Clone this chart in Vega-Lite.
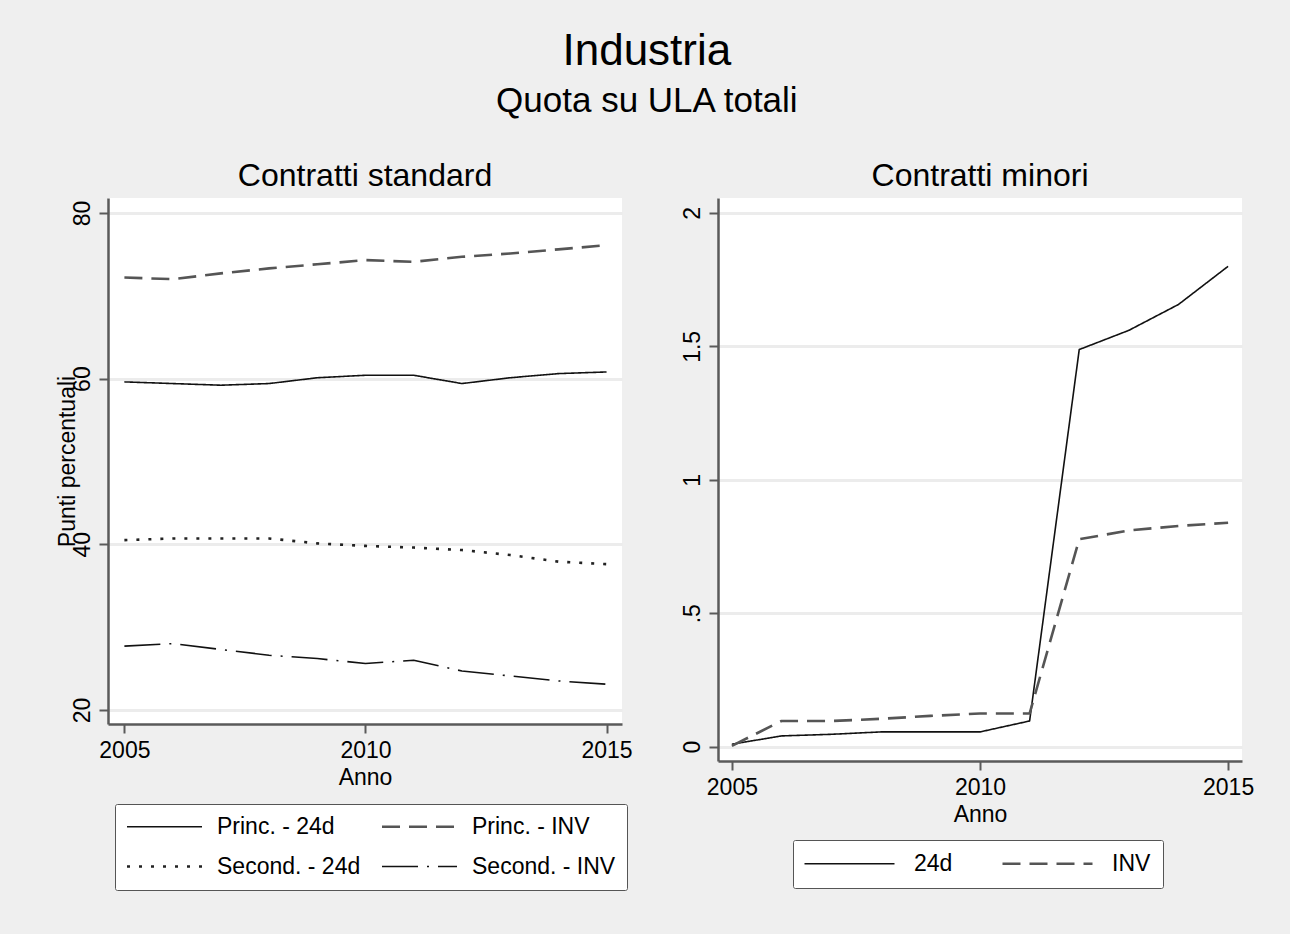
{
  "$schema": "https://vega.github.io/schema/vega-lite/v6.json",
  "background": "#efefef",
  "padding": {"left": 56, "top": 30, "right": 37, "bottom": 47},
  "title": {
    "text": "Industria",
    "subtitle": "Quota su ULA totali",
    "anchor": "middle",
    "dx": -8,
    "font": "Liberation Sans",
    "fontSize": 44,
    "fontWeight": "normal",
    "color": "#000000",
    "subtitleFont": "Liberation Sans",
    "subtitleFontSize": 35,
    "subtitleColor": "#000000",
    "subtitlePadding": 10,
    "offset": 41
  },
  "datasets": {
    "standard": [
      {"anno": 2005, "serie": "Princ. - 24d", "valore": 59.6},
      {"anno": 2006, "serie": "Princ. - 24d", "valore": 59.4},
      {"anno": 2007, "serie": "Princ. - 24d", "valore": 59.2},
      {"anno": 2008, "serie": "Princ. - 24d", "valore": 59.4},
      {"anno": 2009, "serie": "Princ. - 24d", "valore": 60.1},
      {"anno": 2010, "serie": "Princ. - 24d", "valore": 60.4},
      {"anno": 2011, "serie": "Princ. - 24d", "valore": 60.4},
      {"anno": 2012, "serie": "Princ. - 24d", "valore": 59.4},
      {"anno": 2013, "serie": "Princ. - 24d", "valore": 60.1},
      {"anno": 2014, "serie": "Princ. - 24d", "valore": 60.6},
      {"anno": 2015, "serie": "Princ. - 24d", "valore": 60.8},
      {"anno": 2005, "serie": "Princ. - INV", "valore": 72.2},
      {"anno": 2006, "serie": "Princ. - INV", "valore": 72.0},
      {"anno": 2007, "serie": "Princ. - INV", "valore": 72.7},
      {"anno": 2008, "serie": "Princ. - INV", "valore": 73.3},
      {"anno": 2009, "serie": "Princ. - INV", "valore": 73.8},
      {"anno": 2010, "serie": "Princ. - INV", "valore": 74.3},
      {"anno": 2011, "serie": "Princ. - INV", "valore": 74.1},
      {"anno": 2012, "serie": "Princ. - INV", "valore": 74.7},
      {"anno": 2013, "serie": "Princ. - INV", "valore": 75.1},
      {"anno": 2014, "serie": "Princ. - INV", "valore": 75.6},
      {"anno": 2015, "serie": "Princ. - INV", "valore": 76.1},
      {"anno": 2005, "serie": "Second. - 24d", "valore": 40.5},
      {"anno": 2006, "serie": "Second. - 24d", "valore": 40.7},
      {"anno": 2007, "serie": "Second. - 24d", "valore": 40.7},
      {"anno": 2008, "serie": "Second. - 24d", "valore": 40.7},
      {"anno": 2009, "serie": "Second. - 24d", "valore": 40.1},
      {"anno": 2010, "serie": "Second. - 24d", "valore": 39.8},
      {"anno": 2011, "serie": "Second. - 24d", "valore": 39.6},
      {"anno": 2012, "serie": "Second. - 24d", "valore": 39.3},
      {"anno": 2013, "serie": "Second. - 24d", "valore": 38.7},
      {"anno": 2014, "serie": "Second. - 24d", "valore": 37.9},
      {"anno": 2015, "serie": "Second. - 24d", "valore": 37.6},
      {"anno": 2005, "serie": "Second. - INV", "valore": 27.7},
      {"anno": 2006, "serie": "Second. - INV", "valore": 28.0},
      {"anno": 2007, "serie": "Second. - INV", "valore": 27.3},
      {"anno": 2008, "serie": "Second. - INV", "valore": 26.6},
      {"anno": 2009, "serie": "Second. - INV", "valore": 26.2},
      {"anno": 2010, "serie": "Second. - INV", "valore": 25.6},
      {"anno": 2011, "serie": "Second. - INV", "valore": 26.0},
      {"anno": 2012, "serie": "Second. - INV", "valore": 24.7},
      {"anno": 2013, "serie": "Second. - INV", "valore": 24.1},
      {"anno": 2014, "serie": "Second. - INV", "valore": 23.5},
      {"anno": 2015, "serie": "Second. - INV", "valore": 23.1}
    ],
    "minori": [
      {"anno": 2005, "serie": "24d", "valore": 0.009},
      {"anno": 2006, "serie": "24d", "valore": 0.040},
      {"anno": 2007, "serie": "24d", "valore": 0.046},
      {"anno": 2008, "serie": "24d", "valore": 0.055},
      {"anno": 2009, "serie": "24d", "valore": 0.055},
      {"anno": 2010, "serie": "24d", "valore": 0.055},
      {"anno": 2011, "serie": "24d", "valore": 0.096},
      {"anno": 2012, "serie": "24d", "valore": 1.488},
      {"anno": 2013, "serie": "24d", "valore": 1.560},
      {"anno": 2014, "serie": "24d", "valore": 1.657},
      {"anno": 2015, "serie": "24d", "valore": 1.800},
      {"anno": 2005, "serie": "INV", "valore": 0.003},
      {"anno": 2006, "serie": "INV", "valore": 0.096},
      {"anno": 2007, "serie": "INV", "valore": 0.096},
      {"anno": 2008, "serie": "INV", "valore": 0.104},
      {"anno": 2009, "serie": "INV", "valore": 0.115},
      {"anno": 2010, "serie": "INV", "valore": 0.124},
      {"anno": 2011, "serie": "INV", "valore": 0.124},
      {"anno": 2012, "serie": "INV", "valore": 0.777},
      {"anno": 2013, "serie": "INV", "valore": 0.810},
      {"anno": 2014, "serie": "INV", "valore": 0.827},
      {"anno": 2015, "serie": "INV", "valore": 0.839}
    ]
  },
  "bounds": "flush",
  "spacing": 96,
  "hconcat": [
    {
      "title": "Contratti standard",
      "width": 514,
      "height": 526,
      "data": {"name": "standard"},
      "mark": {"type": "line", "strokeCap": "butt", "strokeJoin": "round"},
      "encoding": {
        "x": {
          "field": "anno", "type": "quantitative",
          "scale": {"domain": [2004.66, 2015.32], "nice": false, "zero": false},
          "axis": {"values": [2005, 2010, 2015], "format": "d", "title": "Anno"}
        },
        "y": {
          "field": "valore", "type": "quantitative",
          "scale": {"domain": [18.3, 81.8], "nice": false, "zero": false},
          "axis": {
            "values": [20, 40, 60, 80],
            "title": "Punti percentuali",
            "titleX": -34, "titleY": 263,
            "titleAngle": -90, "titleAlign": "center", "titleBaseline": "alphabetic"
          }
        },
        "color": {
          "field": "serie", "type": "nominal",
          "scale": {
            "domain": ["Princ. - 24d", "Princ. - INV", "Second. - 24d", "Second. - INV"],
            "range": ["#111111", "#555555", "#222222", "#111111"]
          },
          "legend": {
            "title": null, "orient": "none", "legendX": 7, "legendY": 606,
            "columns": 2, "direction": "horizontal",
            "symbolType": "M-5,0H5", "symbolSize": 225, "symbolOffset": 27,
            "labelOffset": 41, "columnPadding": 15, "rowPadding": 16, "padding": 11,
            "strokeColor": "#555555", "fillColor": "#ffffff", "cornerRadius": 2
          }
        },
        "strokeDash": {
          "field": "serie", "type": "nominal",
          "scale": {
            "domain": ["Princ. - 24d", "Princ. - INV", "Second. - 24d", "Second. - INV"],
            "range": [[1, 0], [18, 9], [3, 9], [36, 9, 2, 9]]
          },
          "legend": {
            "title": null, "orient": "none", "legendX": 7, "legendY": 606,
            "columns": 2, "direction": "horizontal",
            "symbolType": "M-5,0H5", "symbolSize": 225, "symbolOffset": 27,
            "labelOffset": 41, "columnPadding": 15, "rowPadding": 16, "padding": 11,
            "strokeColor": "#555555", "fillColor": "#ffffff", "cornerRadius": 2
          }
        },
        "strokeWidth": {
          "field": "serie", "type": "nominal",
          "scale": {
            "type": "ordinal",
            "domain": ["Princ. - 24d", "Princ. - INV", "Second. - 24d", "Second. - INV"],
            "range": [1.6, 2.6, 2.6, 1.6]
          },
          "legend": {
            "title": null, "orient": "none", "legendX": 7, "legendY": 606,
            "columns": 2, "direction": "horizontal",
            "symbolType": "M-5,0H5", "symbolSize": 225, "symbolOffset": 27,
            "labelOffset": 41, "columnPadding": 15, "rowPadding": 16, "padding": 11,
            "strokeColor": "#555555", "fillColor": "#ffffff", "cornerRadius": 2
          }
        }
      }
    },
    {
      "title": "Contratti minori",
      "width": 524,
      "height": 563,
      "data": {"name": "minori"},
      "mark": {"type": "line", "strokeCap": "butt", "strokeJoin": "round"},
      "encoding": {
        "x": {
          "field": "anno", "type": "quantitative",
          "scale": {"domain": [2004.72, 2015.28], "nice": false, "zero": false},
          "axis": {"values": [2005, 2010, 2015], "format": "d", "title": "Anno"}
        },
        "y": {
          "field": "valore", "type": "quantitative",
          "scale": {"domain": [-0.054, 2.056], "nice": false, "zero": false},
          "axis": {
            "values": [0, 0.5, 1, 1.5, 2],
            "labelExpr": "datum.value == 0.5 ? '.5' : format(datum.value, '~g')",
            "title": null
          }
        },
        "color": {
          "field": "serie", "type": "nominal",
          "scale": {"domain": ["24d", "INV"], "range": ["#111111", "#555555"]},
          "legend": {
            "title": null, "orient": "none", "legendX": 75, "legendY": 642,
            "columns": 2, "direction": "horizontal",
            "symbolType": "M-5,0H5", "symbolSize": 324, "symbolOffset": 33,
            "labelOffset": 53, "columnPadding": 44, "padding": 12,
            "strokeColor": "#555555", "fillColor": "#ffffff", "cornerRadius": 2
          }
        },
        "strokeDash": {
          "field": "serie", "type": "nominal",
          "scale": {"domain": ["24d", "INV"], "range": [[1, 0], [18, 9]]},
          "legend": {
            "title": null, "orient": "none", "legendX": 75, "legendY": 642,
            "columns": 2, "direction": "horizontal",
            "symbolType": "M-5,0H5", "symbolSize": 324, "symbolOffset": 33,
            "labelOffset": 53, "columnPadding": 44, "padding": 12,
            "strokeColor": "#555555", "fillColor": "#ffffff", "cornerRadius": 2
          }
        },
        "strokeWidth": {
          "field": "serie", "type": "nominal",
          "scale": {"type": "ordinal", "domain": ["24d", "INV"], "range": [1.6, 2.6]},
          "legend": {
            "title": null, "orient": "none", "legendX": 75, "legendY": 642,
            "columns": 2, "direction": "horizontal",
            "symbolType": "M-5,0H5", "symbolSize": 324, "symbolOffset": 33,
            "labelOffset": 53, "columnPadding": 44, "padding": 12,
            "strokeColor": "#555555", "fillColor": "#ffffff", "cornerRadius": 2
          }
        }
      }
    }
  ],
  "resolve": {"scale": {"color": "independent", "strokeDash": "independent", "strokeWidth": "independent"}, "legend": {"color": "independent", "strokeDash": "independent", "strokeWidth": "independent"}},
  "config": {
    "view": {"fill": "#ffffff", "stroke": null},
    "font": "Liberation Sans",
    "title": {"font": "Liberation Sans", "fontSize": 32, "fontWeight": "normal", "color": "#000000", "offset": 5},
    "axis": {
      "labelFont": "Liberation Sans", "titleFont": "Liberation Sans",
      "labelFontSize": 23, "titleFontSize": 23, "titleFontWeight": "normal",
      "labelColor": "#000000", "titleColor": "#000000",
      "domainColor": "#5a5a5a", "domainWidth": 2.5,
      "tickColor": "#5a5a5a", "tickWidth": 2, "tickSize": 9,
      "gridColor": "#ececec", "gridWidth": 3
    },
    "axisX": {"grid": false, "labelPadding": 6, "titlePadding": 4, "labelFlush": false},
    "axisY": {"labelAngle": -90, "labelAlign": "center", "labelBaseline": "alphabetic", "labelPadding": 10},
    "legend": {"labelFont": "Liberation Sans", "labelFontSize": 23, "labelColor": "#000000", "labelLimit": 400}
  }
}
